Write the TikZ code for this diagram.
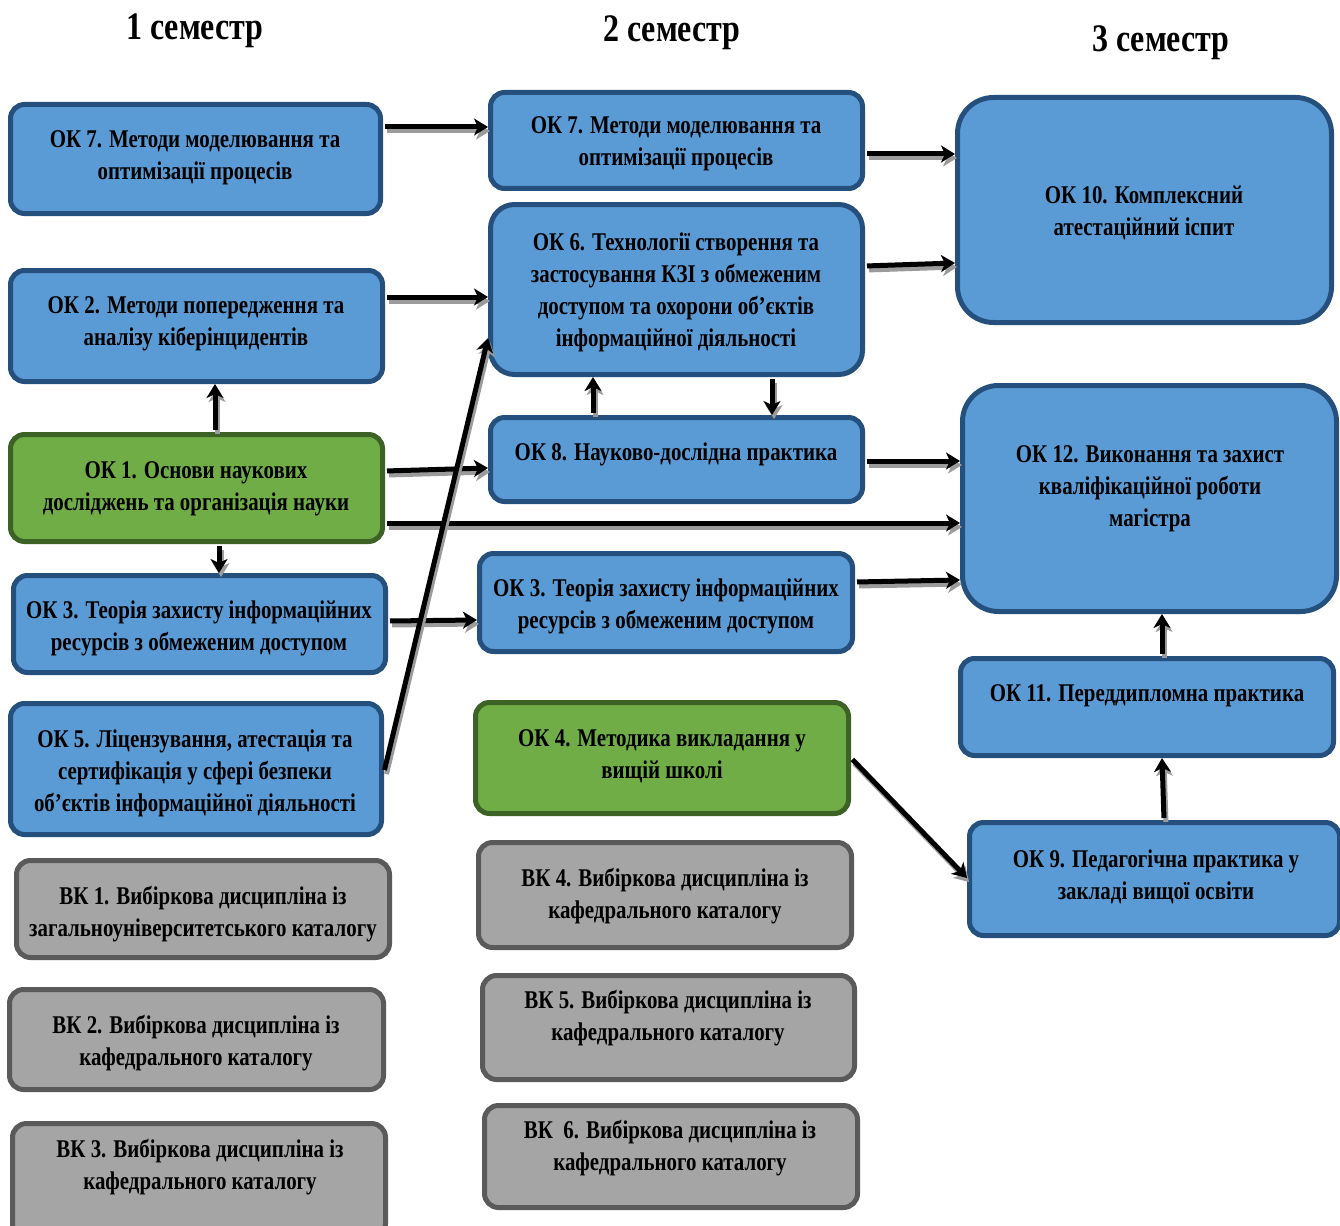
\documentclass[tikz,border=0pt]{standalone}
\usepackage{fontspec}
\setmainfont{Liberation Serif}[FakeStretch=0.82]
\usetikzlibrary{arrows.meta}
\definecolor{bfill}{RGB}{91,155,213}
\definecolor{bdraw}{RGB}{37,80,125}
\definecolor{gfill}{RGB}{112,173,71}
\definecolor{gdraw}{RGB}{60,98,38}
\definecolor{xfill}{RGB}{165,165,165}
\definecolor{xdraw}{RGB}{90,90,90}
\definecolor{shd}{RGB}{155,155,155}
\newcommand\bx[7][]{%
  \node[#2, minimum width={#5-#3-5}, minimum height={#6-#4-5}, #1] (#7) at ({(#3+#5)/2},{(#4+#6)/2}) {};}
\newcommand\conarrow[2]{%
  \draw[conn, draw=shd, transform canvas={xshift=2pt,yshift=-4pt}] #1 -- #2;
  \draw[conn] #1 -- #2;}
\begin{document}
\begin{tikzpicture}[x=1pt,y=-1pt,
  box/.style={draw, line width=5pt, rounded corners=14pt, inner sep=0pt},
  bluebox/.style={box, fill=bfill, draw=bdraw},
  greenbox/.style={box, fill=gfill, draw=gdraw},
  graybox/.style={box, fill=xfill, draw=xdraw},
  txt/.style={font=\bfseries\fontsize{25.5}{32}\selectfont, align=center, inner sep=0pt},
  head/.style={font=\bfseries\fontsize{39}{41}\selectfont, inner sep=0pt},
  conn/.style={line width=5pt, shorten <=2pt, -{Stealth[length=14pt,width=17pt,inset=4pt]}},
]
\useasboundingbox (0,0) rectangle (1340,1225);
\clip (0,0) rectangle (1340,1225);

% headings
\node[head] (h1) at (195,31) {1 семестр};
\node[head] (h2) at (672,33) {2 семестр};
\node[head] (h3) at (1161,43) {3 семестр};

% column 1
\bx{bluebox}{8}{102}{383}{216}{ok7a}
\bx{bluebox}{8}{268}{385}{384}{ok2a}
\bx{greenbox}{8}{432}{385}{544}{ok1}
\bx{bluebox}{11}{573}{388}{675}{ok3a}
\bx{bluebox}{8}{701}{384}{837}{ok5}
\bx{graybox}{14}{858}{392}{960}{bk1}
\bx{graybox}{7}{987}{386}{1092}{bk2}
\bx{graybox}{10}{1121}{388}{1240}{bk3}

% column 2
\bx{bluebox}{488}{90}{865}{191}{ok7b}
\bx[rounded corners=24pt]{bluebox}{488}{202}{865}{377}{ok6}
\bx{bluebox}{488}{415}{865}{504}{ok8}
\bx{bluebox}{477}{551}{855}{654}{ok3b}
\bx{greenbox}{473}{700}{851}{816}{ok4}
\bx{graybox}{476}{840}{854}{950}{bk4}
\bx{graybox}{480}{973}{857}{1082}{bk5}
\bx{graybox}{482}{1103}{860}{1210}{bk6}

% column 3
\bx[rounded corners=36pt]{bluebox}{955}{95}{1334}{325}{ok10}
\bx[rounded corners=36pt]{bluebox}{960}{383}{1339}{614}{ok12}
\bx{bluebox}{958}{656}{1336}{758}{ok11}
\bx{bluebox}{967}{820}{1342}{938}{ok9}

% texts
\node[txt] (t7a) at (195,158) {ОК 7. Методи моделювання та\\оптимізації процесів};
\node[txt] (t2a) at (196,324) {ОК 2. Методи попередження та\\аналізу кіберінцидентів};
\node[txt] (t1) at (196,489) {ОК 1. Основи наукових\\досліджень та організація науки};
\node[txt] (t3a) at (199,628) {ОК 3. Теорія захисту інформаційних\\ресурсів з обмеженим доступом};
\node[txt] (t5) at (195,773) {ОК 5. Ліцензування, атестація та\\сертифікація у сфері безпеки\\об'єктів інформаційної діяльності};
\node[txt] (tb1) at (203,914) {ВК 1. Вибіркова дисципліна із\\загальноуніверситетського каталогу};
\node[txt] (tb2) at (196,1043) {ВК 2. Вибіркова дисципліна із\\кафедрального каталогу};
\node[txt] (tb3) at (200,1167) {ВК 3. Вибіркова дисципліна із\\кафедрального каталогу};

\node[txt] (t7b) at (676,144) {ОК 7. Методи моделювання та\\оптимізації процесів};
\node[txt] (t6) at (676,292) {ОК 6. Технології створення та\\застосування КЗІ з обмеженим\\доступом та охорони об'єктів\\інформаційної діяльності};
\node[txt] (t8) at (676,454) {ОК 8. Науково-дослідна практика};
\node[txt] (t3b) at (666,606) {ОК 3. Теорія захисту інформаційних\\ресурсів з обмеженим доступом};
\node[txt] (t4) at (662,756) {ОК 4. Методика викладання у\\вищій школі};
\node[txt] (tb4) at (665,896) {ВК 4. Вибіркова дисципліна із\\кафедрального каталогу};
\node[txt] (tb5) at (668,1018) {ВК 5. Вибіркова дисципліна із\\кафедрального каталогу};
\node[txt] (tb6) at (670,1148) {ВК\ \ 6. Вибіркова дисципліна із\\кафедрального каталогу};

\node[txt] (t10) at (1144,213) {ОК 10. Комплексний\\атестаційний іспит};
\node[txt] (t12) at (1150,489) {ОК 12. Виконання та захист\\кваліфікаційної роботи\\магістра};
\node[txt] (t11) at (1147,696) {ОК 11. Переддипломна практика};
\node[txt] (t9) at (1156,877) {ОК 9. Педагогічна практика у\\закладі вищої освіти};

% connectors
\conarrow{(ok7a.east |- 0,127)}{(ok7b.west |- 0,127)}
\conarrow{(ok2a.east |- 0,297)}{(ok6.west |- 0,297)}
\conarrow{(ok1.north -| 215,0)}{(ok2a.south -| 215,0)}
\conarrow{(ok1.south -| 219,0)}{(ok3a.north -| 219,0)}
\conarrow{(ok1.east |- 0,471)}{(ok8.west |- 0,468)}
\conarrow{(ok1.east |- 0,523)}{(ok12.west |- 0,523)}
\conarrow{(ok3a.east |- 0,621)}{(ok3b.west |- 0,620)}
\conarrow{(ok5.east |- 0,772)}{(ok6.west |- 0,338)}
\conarrow{(ok8.north -| 593,0)}{(ok6.south -| 593,0)}
\conarrow{(ok6.south -| 772,0)}{(ok8.north -| 772,0)}
\conarrow{(ok7b.east |- 0,154)}{(ok10.west |- 0,154)}
\conarrow{(ok6.east |- 0,266)}{(ok10.west |- 0,263)}
\conarrow{(ok8.east |- 0,461)}{(ok12.west |- 0,461)}
\conarrow{(ok3b.east |- 0,582)}{(ok12.west |- 0,580)}
\conarrow{(ok4.east |- 0,758)}{(ok9.west |- 0,878)}
\conarrow{(ok11.north -| 1162,0)}{(ok12.south -| 1162,0)}
\conarrow{(ok9.north -| 1164,0)}{(ok11.south -| 1162,0)}
\end{tikzpicture}
\end{document}
